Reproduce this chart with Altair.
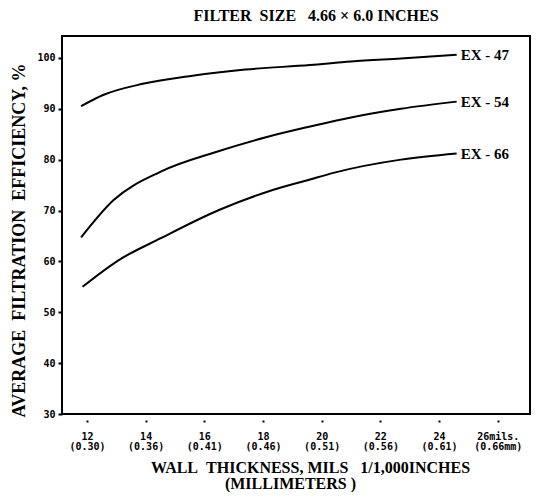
import altair as alt
import pandas as pd

# ---- data ----
series_names = ["EX - 47", "EX - 54", "EX - 66"]
x47 = [11.8, 12.55, 13.9, 15.6, 17.4, 19.6, 21.0, 22.7, 24.6]
y47 = [90.5, 92.7, 94.9, 96.5, 97.7, 98.6, 99.3, 99.9, 100.6]
x54 = [11.8, 12.9, 14.5, 16.4, 18.1, 19.6, 21.0, 22.7, 24.6]
y54 = [64.7, 72.0, 77.6, 81.5, 84.4, 86.5, 88.3, 90.0, 91.4]
x66 = [11.85, 13.1, 14.5, 16.5, 18.1, 19.6, 20.4, 22.7, 24.6]
y66 = [55.0, 60.3, 64.5, 70.1, 73.6, 76.1, 77.4, 80.0, 81.2]

x_ticks = [12, 14, 16, 18, 20, 22, 24, 26]
x_tick_top = ["12", "14", "16", "18", "20", "22", "24", "26mils."]
x_tick_bottom = ["(0.30)", "(0.36)", "(0.41)", "(0.46)", "(0.51)", "(0.56)", "(0.61)", "(0.66mm)"]
y_ticks = [30, 35, 40, 45, 50, 55, 60, 65, 70, 75, 80, 85, 90, 95, 100]

NB = "\u00a0"
ZW = "\u200b"
chart_title = "FILTER" + NB * 2 + "SIZE" + NB * 3 + "4.66" + NB + "×" + NB + "6.0" + NB + "INCHES"
x_title = ["WALL" + NB * 2 + "THICKNESS," + NB + "MILS" + NB * 3 + "1/1,000INCHES",
           "(MILLIMETERS" + NB + ")" + NB * 10 + ZW]
y_title = "AVERAGE" + NB * 2 + "FILTRATION" + NB * 2 + "EFFICIENCY," + NB + "%"

rows = []
for name, xs, ys in zip(series_names, [x47, x54, x66], [y47, y54, y66]):
    for i, (a, b) in enumerate(zip(xs, ys)):
        rows.append({"series": name, "x": a, "y": b, "order": i})
df = pd.DataFrame(rows)
ends = df.loc[df.groupby("series")["order"].idxmax()].reset_index(drop=True)

expr = "''"
for v, a, b in reversed(list(zip(x_ticks, x_tick_top, x_tick_bottom))):
    expr = f"datum.value == {v} ? ['{a}', '{b}'] : " + expr

xs = alt.Scale(domain=[11.15, 27.1], nice=False, zero=False)
ys = alt.Scale(domain=[30, 104.3], nice=False, zero=False)

x_axis = alt.Axis(values=x_ticks, labelExpr=expr, domain=False, grid=False, offset=6,
                  tickSize=2, tickWidth=2, tickColor="black",
                  labelFont="DejaVu Sans Mono", labelFontWeight="bold", labelFontSize=10,
                  labelColor="black", labelPadding=9, labelLineHeight=10,
                  title=x_title, titleFont="Liberation Serif", titleFontWeight="bold",
                  titleFontSize=16, titleColor="black", titlePadding=8, titleLineHeight=16,
                  titleX=248, titleAlign="center")
y_axis = alt.Axis(values=y_ticks, labelExpr="datum.value % 10 == 0 ? datum.value : ''",
                  domain=False, grid=False, tickSize=4, tickWidth=2, tickColor="black",
                  labelFont="DejaVu Sans Mono", labelFontWeight="bold", labelFontSize=10,
                  labelColor="black", labelPadding=3,
                  title=y_title, titleFont="Liberation Serif", titleFontWeight="bold",
                  titleFontSize=18, titleColor="black", titlePadding=8,
                  titleY=204, titleAlign="center")

lines = alt.Chart(df).mark_line(color="black", strokeWidth=2, interpolate="monotone").encode(
    x=alt.X("x:Q", scale=xs, axis=x_axis),
    y=alt.Y("y:Q", scale=ys, axis=y_axis),
    detail="series:N",
    order="order:Q",
)

labels = alt.Chart(ends).mark_text(align="left", baseline="middle", dx=4,
                                   font="Liberation Serif", fontWeight="bold",
                                   fontSize=15, color="black").encode(
    x=alt.X("x:Q", scale=xs),
    y=alt.Y("y:Q", scale=ys),
    text="series:N",
)

chart = alt.layer(lines, labels).properties(
    width=468, height=378,
    title=alt.TitleParams(chart_title, font="Liberation Serif", fontWeight="bold",
                          fontSize=16, color="black", anchor="middle", offset=12, dx=20),
    autosize=alt.AutoSizeParams(type="none"),
    padding={"left": 54, "top": 28, "right": 11, "bottom": 78},
    background="white",
).configure_view(stroke="black", strokeWidth=2)

chart.save("out.html", embed_options={"renderer": "svg", "actions": False})
